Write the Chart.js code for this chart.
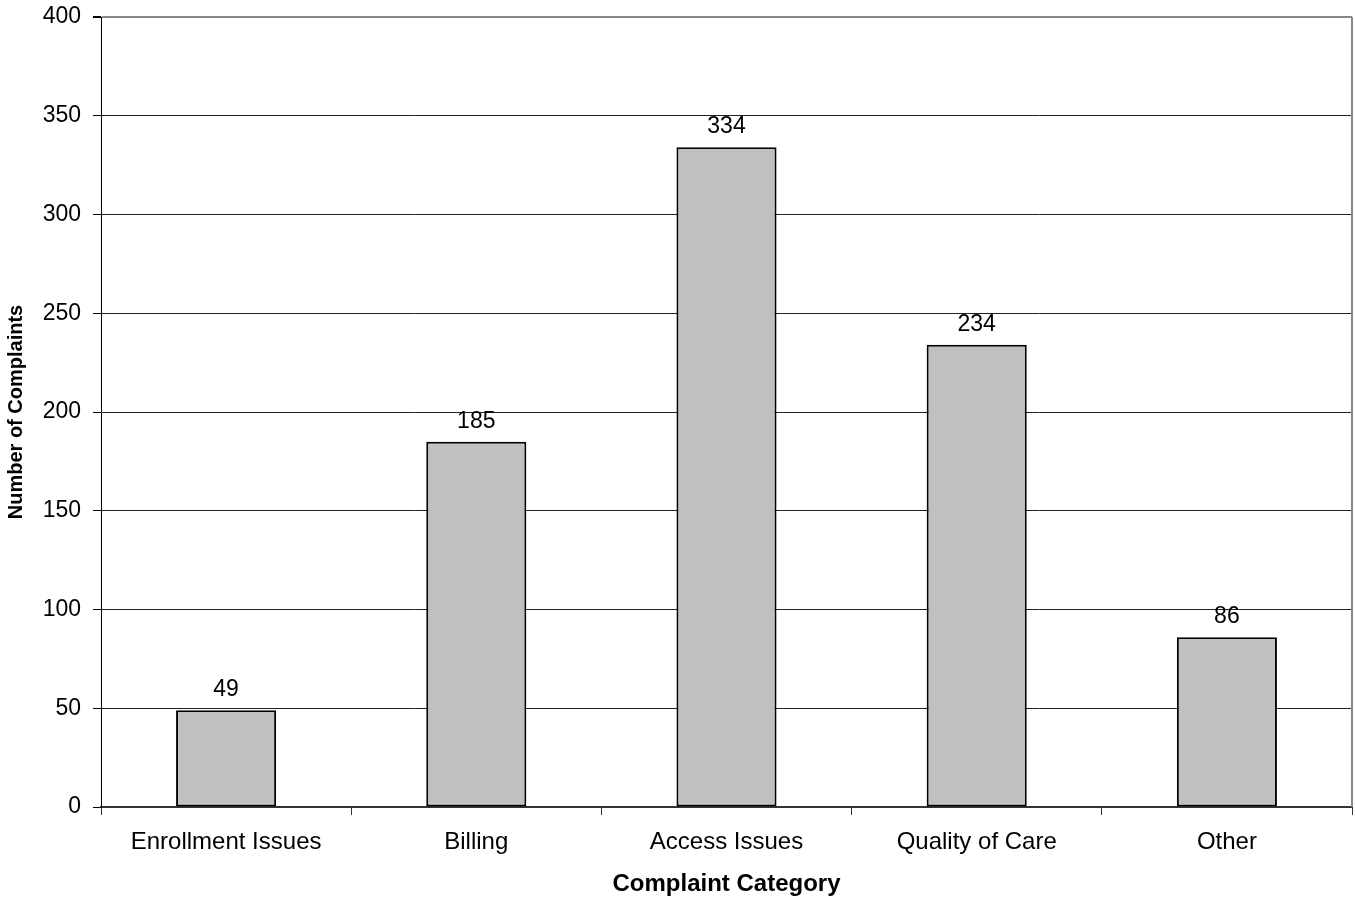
<!DOCTYPE html>
<html>
<head>
<meta charset="utf-8">
<title>Complaints by Category</title>
<script src="https://cdn.jsdelivr.net/npm/chart.js@4.4.1/dist/chart.umd.min.js"></script>
<style>
  html, body { margin: 0; padding: 0; background: #ffffff; }
  #wrap { width: 1355px; height: 901px; position: relative; }
</style>
</head>
<body>
<div id="wrap"><canvas id="chart" width="1355" height="901"></canvas></div>
<script>
const categories = ['Enrollment Issues', 'Billing', 'Access Issues', 'Quality of Care', 'Other'];
const complaints = [49, 185, 334, 234, 86];
const yTicks = [0, 50, 100, 150, 200, 250, 300, 350, 400];

const FONT = '"Liberation Sans", Arial, sans-serif';

// Writes each bar's value just above it
const valueLabels = {
  id: 'valueLabels',
  afterDatasetsDraw(chart) {
    const ctx = chart.ctx;
    const meta = chart.getDatasetMeta(0);
    ctx.save();
    ctx.font = '23px ' + FONT;
    ctx.fillStyle = '#000';
    ctx.textAlign = 'center';
    ctx.textBaseline = 'alphabetic';
    meta.data.forEach((bar, i) => {
      ctx.fillText(String(chart.data.datasets[0].data[i]), bar.x, bar.y - 14);
    });
    ctx.restore();
  }
};

// Grey frame on the right-hand side of the plot area
const plotFrame = {
  id: 'plotFrame',
  beforeDatasetsDraw(chart) {
    const { ctx, chartArea: a } = chart;
    ctx.save();
    ctx.strokeStyle = '#888888';
    ctx.lineWidth = 2;
    ctx.beginPath();
    ctx.moveTo(a.right, a.top);
    ctx.lineTo(a.right, a.bottom);
    ctx.stroke();
    ctx.restore();
  }
};

new Chart(document.getElementById('chart'), {
  type: 'bar',
  data: {
    labels: categories,
    datasets: [{
      data: complaints,
      backgroundColor: '#c0c0c0',
      borderColor: '#000000',
      borderWidth: 2,
      borderSkipped: false,
      barPercentage: 0.4,
      categoryPercentage: 1.0
    }]
  },
  options: {
    responsive: false,
    animation: false,
    layout: { padding: { top: 17, right: 3, left: 0, bottom: 0 } },
    plugins: {
      legend: { display: false },
      tooltip: { enabled: false }
    },
    scales: {
      x: {
        grid: {
          offset: true,
          drawOnChartArea: false,
          drawTicks: true,
          tickLength: 8,
          color: '#333333'
        },
        border: { color: '#333333', width: 2 },
        ticks: {
          color: '#000',
          font: { family: FONT, size: 24 },
          padding: 13,
          maxRotation: 0
        },
        title: {
          display: true,
          text: 'Complaint Category',
          color: '#000',
          font: { family: FONT, size: 24, weight: 'bold' },
          padding: { top: 0, bottom: 2 }
        },
        afterFit(scale) { scale.height = 94; }
      },
      y: {
        min: 0,
        max: 400,
        afterBuildTicks(scale) { scale.ticks = yTicks.map(v => ({ value: v })); },
        grid: {
          color: ctx => (ctx.tick && ctx.tick.value === 400) ? '#888888' : '#222222',
          lineWidth: ctx => (ctx.tick && ctx.tick.value === 400) ? 2 : 1,
          tickColor: '#000',
          tickLength: 8
        },
        border: { color: '#000', width: 1 },
        ticks: {
          color: '#000',
          font: { family: FONT, size: 23 },
          padding: 12
        },
        title: {
          display: true,
          text: 'Number of Complaints',
          color: '#000',
          font: { family: FONT, size: 20, weight: 'bold' },
          padding: { top: 4, bottom: 0 }
        },
        afterFit(scale) {
          scale.width = 101;
          scale.paddingTop = 0;
          scale.paddingBottom = 0;
        }
      }
    }
  },
  plugins: [plotFrame, valueLabels]
});
</script>
</body>
</html>
